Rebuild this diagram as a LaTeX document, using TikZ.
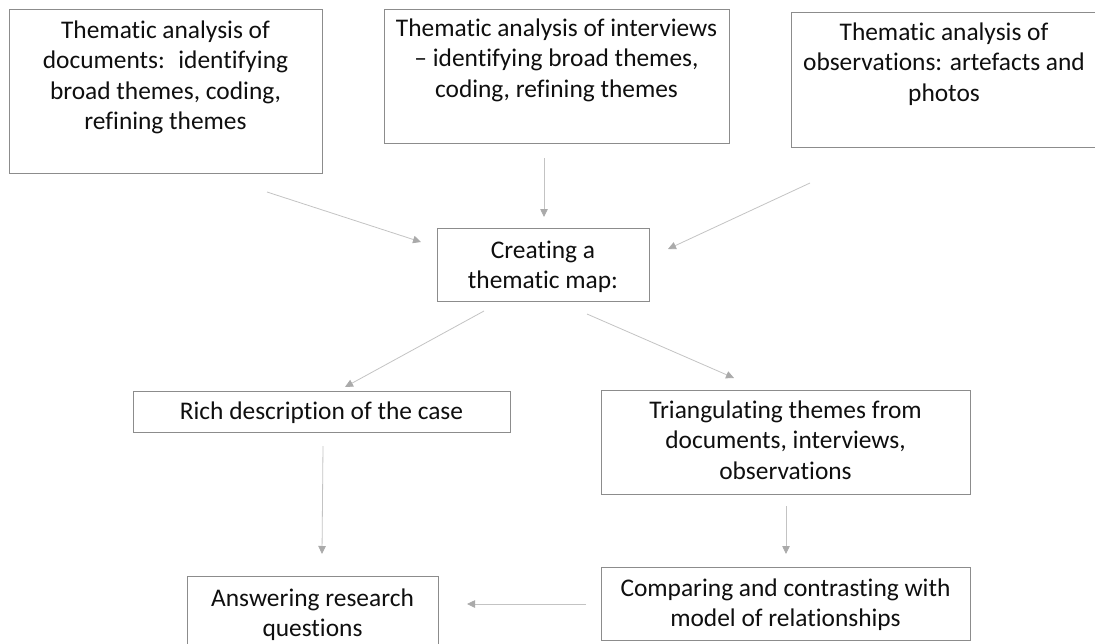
\documentclass[tikz,border=0pt]{standalone}
\usepackage{fontspec}
\setmainfont{Carlito}[Ligatures={NoCommon,NoContextual}]
\usetikzlibrary{arrows.meta}

\definecolor{boxline}{RGB}{140,140,140}
\definecolor{flowline}{RGB}{195,195,195}
\definecolor{flowhead}{RGB}{170,170,170}
\definecolor{ink}{RGB}{15,15,15}

% box text: width, height, first-baseline offset, lines
\newcommand\boxtext[4]{\parbox[c][#2pt][t]{#1pt}{\centering\rule{0pt}{#3pt}#4\par}}

\tikzset{
  stage/.style={draw=boxline, line width=0.9pt, inner sep=0pt, fill=white,
    text=ink, font=\fontsize{25.4}{30.5}\selectfont},
  flow/.style={draw=flowline, line width=0.8pt,
    -{Triangle[length=8pt,width=7.5pt,color=flowhead]}}
}

\begin{document}
\begin{tikzpicture}[x=1pt,y=-1pt]
\useasboundingbox (0,0) rectangle (1095,643);

% analysis stages
\node[stage] (docs) at (165.5,91)
  {\boxtext{313}{164}{29.3}{Thematic analysis of\\documents:~ identifying\\broad themes, coding,\\refining themes}};
\node[stage] (intv) at (556.5,76)
  {\boxtext{345}{134}{27}{Thematic analysis of interviews\\– identifying broad themes,\\coding, refining themes}};
% this box runs on past the right edge of the page
\node[stage] (obsv) at (974,79.5)
  {\boxtext{306}{135}{28}{Thematic analysis of\\observations: artefacts and\\photos}\rule{60pt}{0pt}};

% synthesis
\node[stage] (map) at (543,264.5)
  {\boxtext{212}{73}{30}{Creating a\\thematic map:}};
\node[stage] (rich) at (321.5,411.5)
  {\boxtext{377}{41}{28}{Rich description of the case}};
\node[stage] (tri) at (785.5,442)
  {\boxtext{369}{104}{28}{Triangulating themes from\\documents, interviews,\\observations}};
\node[stage] (cmp) at (785.5,603.5)
  {\boxtext{369}{73}{29}{Comparing and contrasting with\\model of relationships}};
\node[stage] (ans) at (312.5,613)
  {\boxtext{251}{74}{30}{Answering research\\questions}};

% free connector ends
\coordinate (a1s) at (267,192);  \coordinate (a1e) at (421,242);
\coordinate (a2s) at (544,158);  \coordinate (a2e) at (544,217);
\coordinate (a3s) at (810,183);  \coordinate (a3e) at (668,249);
\coordinate (a4s) at (484,311);  \coordinate (a4e) at (345,387);
\coordinate (a5s) at (587,314);  \coordinate (a5e) at (734,378);
\coordinate (a6s) at (323,446);  \coordinate (a6e) at (322,554);
\coordinate (a7s) at (786,506);  \coordinate (a7e) at (786,554);
\coordinate (a8s) at (586,604);  \coordinate (a8e) at (467,604);

\draw[flow] (a1s) -- (a1e);
\draw[flow] (a2s) -- (a2e);
\draw[flow] (a3s) -- (a3e);
\draw[flow] (a4s) -- (a4e);
\draw[flow] (a5s) -- (a5e);
\draw[flow] (a6s) -- (a6e);
\draw[flow] (a7s) -- (a7e);
\draw[flow] (a8s) -- (a8e);
\end{tikzpicture}
\end{document}
